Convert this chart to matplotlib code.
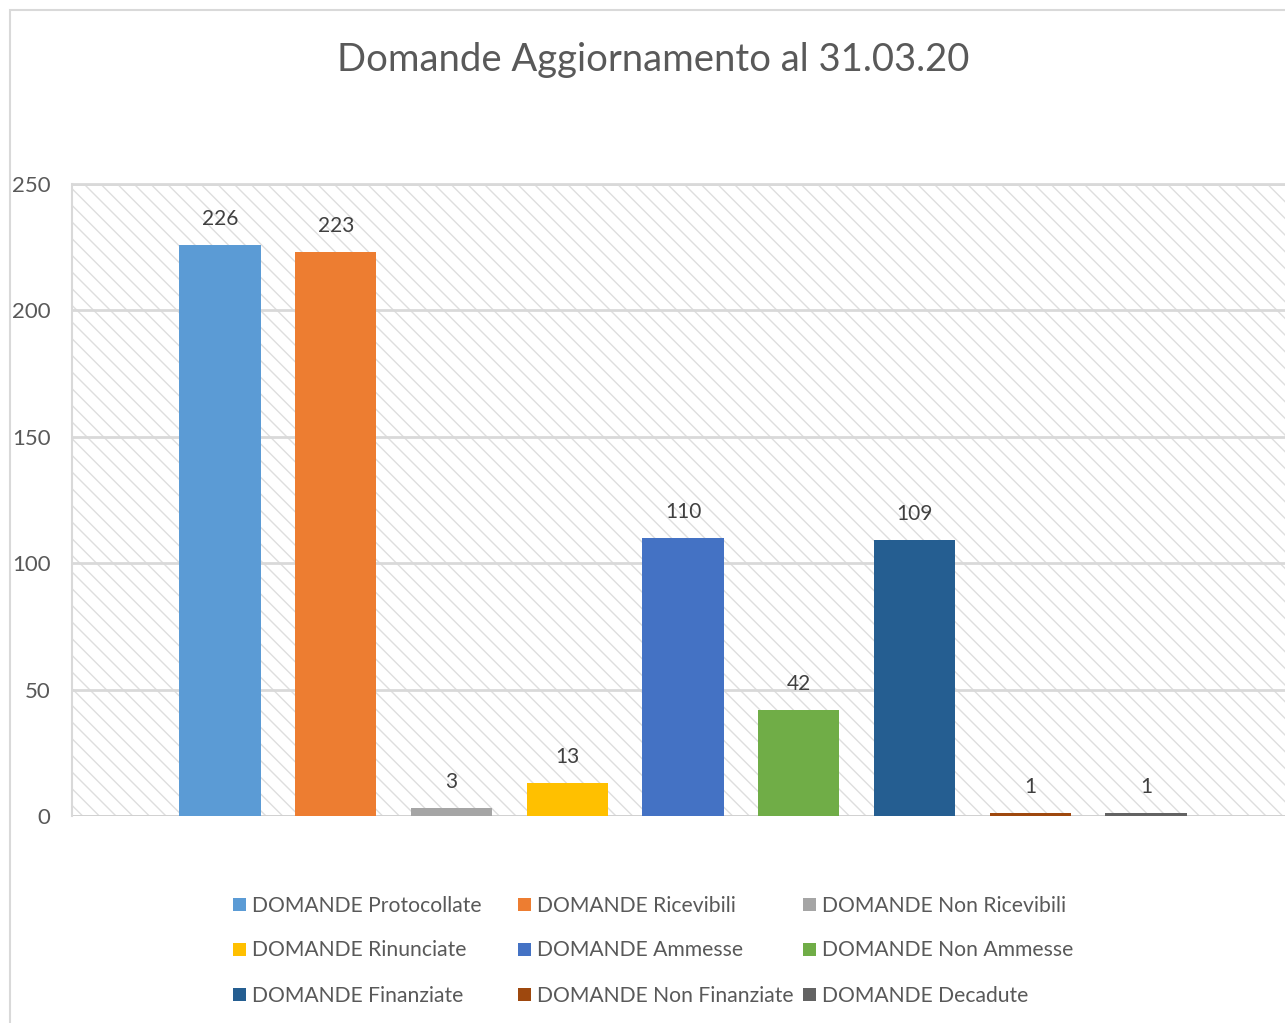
import matplotlib
matplotlib.use("Agg")
import matplotlib.pyplot as plt
from matplotlib.patches import Rectangle
import numpy as np

plt.rcParams['font.family'] = ['Lato', 'DejaVu Sans']
plt.rcParams['hatch.linewidth'] = 1.0

title = "Domande Aggiornamento al 31.03.20"
series = ["DOMANDE Protocollate", "DOMANDE Ricevibili", "DOMANDE Non Ricevibili",
          "DOMANDE Rinunciate", "DOMANDE Ammesse", "DOMANDE Non Ammesse",
          "DOMANDE Finanziate", "DOMANDE Non Finanziate", "DOMANDE Decadute"]
values = [226, 223, 3, 13, 110, 42, 109, 1, 1]
colors = ["#5B9BD5", "#ED7D31", "#A5A5A5", "#FFC000", "#4472C4",
          "#70AD47", "#255E91", "#9E480E", "#636363"]
yticks = [0, 50, 100, 150, 200, 250]

W, H = 1285, 1023
fig = plt.figure(figsize=(W / 100, H / 100), dpi=100)

def fx(px):
    return px / W

def fy(py):
    return 1 - py / H

# outer chart frame
fig.add_artist(Rectangle((fx(10), fy(1030)), fx(1400), fy(10) - fy(1030),
                         transform=fig.transFigure, fill=False,
                         edgecolor="#d9d9d9", linewidth=1.5))

ax_l, ax_r, ax_t, ax_b = 72, 1285, 184, 816
ax = fig.add_axes([fx(ax_l), fy(ax_b), fx(ax_r - ax_l), fy(ax_t) - fy(ax_b)])

x = np.arange(len(values))
step = 115.75
center_px = 683
ax.set_xlim(4 - (center_px - ax_l) / step, 4 + (ax_r - center_px) / step)
ax.set_ylim(0, 250)

# hatched plot area
bg = Rectangle((0, 0), 1, 1, transform=ax.transAxes, facecolor="white",
               edgecolor="#dedede", hatch="\\\\", linewidth=0, zorder=0.1)
ax.add_patch(bg)
ax.patch.set_visible(False)

for i, (v, c) in enumerate(zip(values, colors)):
    ax.bar(x[i], v, width=0.7, color=c, zorder=2, label=series[i])
    ax.annotate(str(v), (x[i], v), xytext=(0, 26), textcoords="offset pixels",
                ha="center", va="center", fontsize=15, color="#404040")

ax.set_yticks(yticks)
ax.set_xticks([])
ax.tick_params(axis="y", length=0, pad=15.5, labelsize=16, labelcolor="#595959")
ax.set_axisbelow(True)
ax.yaxis.grid(True, color="#d9d9d9", linewidth=2)
for s in ["right", "bottom"]:
    ax.spines[s].set_visible(False)
ax.spines["top"].set_color("#d9d9d9")
ax.spines["top"].set_linewidth(2)
ax.spines["left"].set_color("#d9d9d9")
ax.spines["left"].set_linewidth(1.5)
ax.axhline(0, color="#d0d0d0", linewidth=2, zorder=1.5)

fig.text(fx(653), fy(60), title, ha="center", va="center", fontsize=27.5,
         color="#595959")

# legend (Excel-style equal columns)
col_x = [233, 518, 803]
row_y = [904, 949, 994]
sq = 13
for i, name in enumerate(series):
    r, c = divmod(i, 3)
    fig.add_artist(Rectangle((fx(col_x[c]), fy(row_y[r] + sq / 2)), fx(sq), fy(0) - fy(sq),
                             transform=fig.transFigure, facecolor=colors[i],
                             edgecolor="none"))
    fig.text(fx(col_x[c] + 19), fy(row_y[r] + 1.5), name, ha="left", va="center",
             fontsize=15.2, color="#595959")

fig.savefig("out.png", dpi=100)
